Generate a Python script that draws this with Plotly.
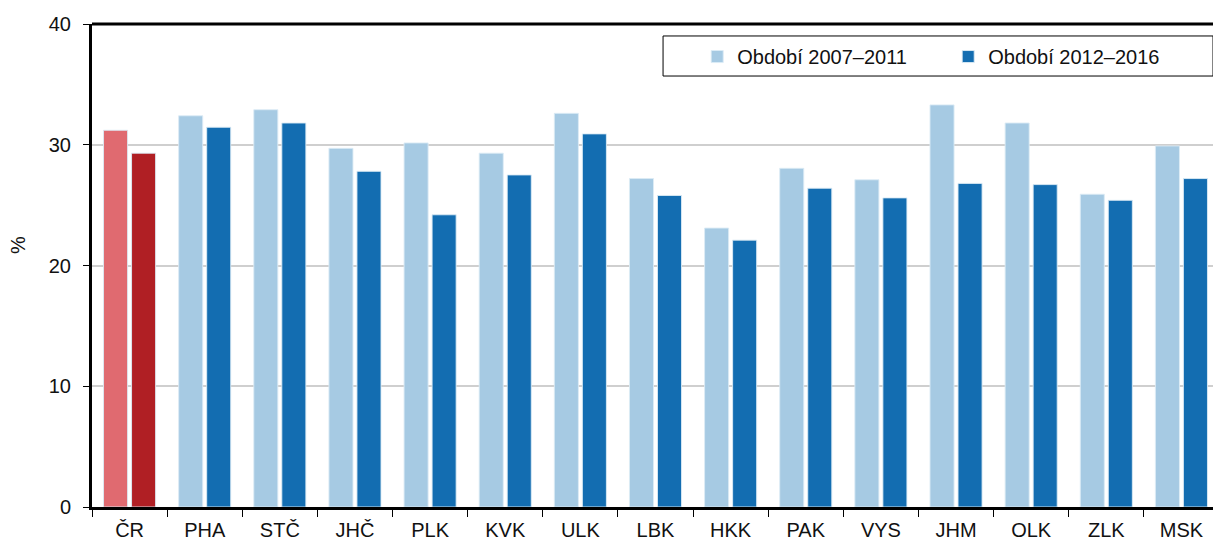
import plotly.graph_objects as go

categories = ["ČR", "PHA", "STČ", "JHČ", "PLK", "KVK", "ULK", "LBK", "HKK", "PAK", "VYS", "JHM", "OLK", "ZLK", "MSK"]
period_1 = [31.2, 32.4, 32.9, 29.7, 30.15, 29.3, 32.6, 27.2, 23.1, 28.05, 27.1, 33.3, 31.8, 25.9, 29.9]
period_2 = [29.3, 31.45, 31.8, 27.8, 24.2, 27.5, 30.9, 25.8, 22.1, 26.4, 25.6, 26.8, 26.7, 25.4, 27.2]
names = ["Období 2007–2011", "Období 2012–2016"]
yticks = [0, 10, 20, 30, 40]

light_blue = "#A6CAE3"
dark_blue = "#136DB1"
light_red = "#E06A70"
dark_red = "#B01F24"

W = 0.32
GAP = 0.053
off1 = -(2 * W + GAP) / 2
off2 = off1 + W + GAP

fig = go.Figure()
line = dict(color="rgba(220,235,245,0.9)", width=1)
fig.add_trace(go.Bar(x=categories[:1], y=period_1[:1], width=W, offset=off1,
                     marker=dict(color=light_red, line=line), showlegend=False))
fig.add_trace(go.Bar(x=categories[:1], y=period_2[:1], width=W, offset=off2,
                     marker=dict(color=dark_red, line=line), showlegend=False))
fig.add_trace(go.Bar(x=categories[1:], y=period_1[1:], width=W, offset=off1, name=names[0],
                     marker=dict(color=light_blue, line=line)))
fig.add_trace(go.Bar(x=categories[1:], y=period_2[1:], width=W, offset=off2, name=names[1],
                     marker=dict(color=dark_blue, line=line)))

fig.update_layout(
    width=1213, height=532,
    margin=dict(l=84, r=2, t=16, b=33, autoexpand=False),
    plot_bgcolor="white", paper_bgcolor="white",
    font=dict(family="Liberation Sans, Arial, sans-serif", size=20, color="#111"),
    barmode="overlay",
    legend=dict(orientation="h", x=0.537, y=0.973, xanchor="left", yanchor="top",
                borderwidth=0, bgcolor="rgba(0,0,0,0)",
                entrywidth=206, font=dict(size=20), traceorder="normal",
                itemwidth=30),
    shapes=[
        dict(type="line", xref="paper", yref="paper", x0=0, x1=1, y0=1, y1=1,
             line=dict(color="black", width=3)),
        dict(type="rect", xref="paper", yref="paper", x0=0.5067, x1=0.9947, y0=0.8923, y1=0.9752,
             line=dict(color="black", width=1), fillcolor="white", layer="below"),
    ],
    annotations=[
        dict(text="%", xref="paper", yref="paper", x=0, y=0.5424, xshift=-74,
             xanchor="center", yanchor="middle", textangle=-90, showarrow=False,
             font=dict(size=20)),
    ],
)
fig.update_xaxes(type="category", categoryorder="array", categoryarray=categories,
                 showline=True, linecolor="black", linewidth=3,
                 ticks="outside", tickson="boundaries", ticklen=7, tickcolor="black", tickwidth=1,
                 ticklabelstandoff=3,
                 range=[-0.5, len(categories) - 0.5], automargin=False)
fig.update_yaxes(range=[0, 40], tickvals=yticks, showline=True, linecolor="black", linewidth=3,
                 ticks="outside", ticklen=6, tickcolor="black", tickwidth=1,
                 ticklabelstandoff=8,
                 showgrid=True, gridcolor="#CFCFCF", gridwidth=1.5, zeroline=False,
                 automargin=False)

fig.write_html("out.html")
